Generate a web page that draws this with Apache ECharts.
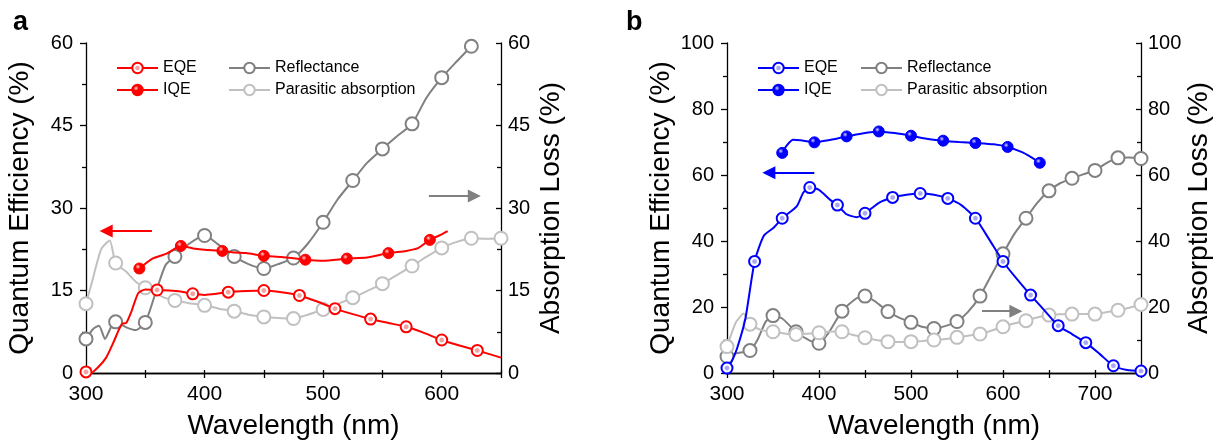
<!DOCTYPE html>
<html><head><meta charset="utf-8">
<script src="https://cdn.jsdelivr.net/npm/echarts@6/dist/echarts.min.js"></script>
<style>html,body{margin:0;padding:0;background:#fff}#c{width:1231px;height:445px}</style>
</head><body><div id="c"></div><script>
// ---------- Panel a data ----------
const EQE_A_WL = [300,304,310,317,323,328,331,334,338,344,350,360,370,380,390,400,410,420,435,450,465,480,495,510,525,540,555,570,585,600,615,630,650];
const EQE_A    = [0.2,0,1,2.8,5.5,8,9,9.1,11,14.5,15.2,15.1,15.0,14.8,14.4,14.2,14.4,14.7,14.9,15.0,14.7,14.1,13.0,11.7,10.7,9.8,9.1,8.4,7.3,6.0,5.0,4.1,2.8];
const EQE_A_MK = [300,360,390,420,450,480,510,540,570,600,630];

const IQE_A_WL = [345,356,368,380,392,400,415,425,435,450,465,485,500,520,537,555,570,580,590,598,605];
const IQE_A    = [19.0,20.8,21.7,23.1,22.6,22.4,22.2,21.9,21.8,21.3,21.1,20.6,20.4,20.8,21.0,21.8,22.2,22.7,24.2,25.0,25.8];
const IQE_A_MK = [345,380,415,450,485,520,555,590];

const REF_A_WL = [300,306,311,316,321,325,334,342,350,358,367,375,387,400,412,425,437,450,462,475,487,500,512,525,537,550,562,575,587,600,612,625,637,650];
const REF_A    = [6.2,8.0,8.6,6.2,8.3,9.3,8.3,7.8,9.2,14.1,19.6,21.2,23.5,25.0,23.3,21.2,19.8,19.0,19.8,20.9,23.5,27.4,31.5,35.0,38.2,40.75,43.0,45.3,50.0,53.7,56.5,59.4,62,65];
const REF_A_MK = [300,325,350,375,400,425,450,475,500,525,550,575,600,625];

const PAR_A_WL = [300,305,309,313,320,325,334,342,350,365,375,387,400,412,425,437,450,462,475,487,500,512,525,537,550,562,575,587,600,612,625,637,650];
const PAR_A    = [12.6,16.5,19.8,22.6,24.1,20.0,18.4,16.6,15.5,13.8,13.2,12.7,12.3,11.7,11.25,10.6,10.2,10.0,9.9,10.6,11.55,12.5,13.7,14.9,16.25,17.8,19.45,21.1,22.75,23.8,24.5,24.4,24.5];
const PAR_A_MK = [300,325,350,375,400,425,450,475,500,525,550,575,600,625,650];

// ---------- Panel b data ----------
const EQE_B_WL = [300,305,311,320,330,340,351,360,376,383,390,400,412,420,430,441,450,466,480,495,510,525,540,555,570,585,600,615,630,645,660,675,690,705,720,735,750];
const EQE_B    = [1.5,3.5,7.5,16.5,33.8,41.6,44.1,46.9,50.6,54.7,56.2,55.5,52.5,50.9,48.1,47.2,48.4,51.7,53.2,54.0,54.4,54.0,52.9,50.8,46.9,40.5,33.8,28.5,23.6,19.0,14.35,11.8,9.2,5.8,2.2,0.9,0.6];
const EQE_B_MK = [300,330,360,390,420,450,480,510,540,570,600,630,660,690,720,750];

const IQE_B_WL = [360,365,372,380,395,410,430,447,465,482,500,517,535,552,570,590,605,620,630,640];
const IQE_B    = [66.7,69.0,70.7,70.5,69.9,70.5,71.7,72.6,73.2,72.7,71.9,71.0,70.4,70.0,69.7,69.3,68.5,67.0,65.5,63.7];
const IQE_B_MK = [360,395,430,465,500,535,570,605,640];

const REF_B_WL = [300,310,325,333,342,350,360,375,390,400,410,425,440,450,462,475,487,500,512,525,537,550,562,575,587,600,612,625,637,650,662,675,687,700,712,725,737,750];
const REF_B    = [5.0,6.0,6.8,10,15.5,17.4,16.5,12.5,9.8,9.0,12,18.75,22.5,23.3,21.5,18.6,16.8,15.35,14,13.5,14.2,15.6,18.5,23.3,29.5,36.1,42,46.9,51.5,55.2,57.5,59.0,60.2,61.4,63.5,65.2,65.3,65.0];
const REF_B_MK = [300,325,350,375,400,425,450,475,500,525,550,575,600,625,650,675,700,725,750];

const PAR_B_WL = [300,305,310,318,325,337,350,362,375,387,400,412,425,437,450,462,475,487,500,512,525,537,550,562,575,587,600,612,625,637,650,675,700,712,725,737,750];
const PAR_B    = [8.0,12,15.5,18.0,14.8,13.0,12.5,12.0,11.7,11.9,12.2,12.6,12.5,11.5,10.7,10.0,9.5,9.4,9.5,9.7,10.0,10.3,10.8,11.3,11.8,12.8,14.0,15.0,15.85,16.8,17.55,17.85,17.85,18.4,19.0,19.8,20.75];
const PAR_B_MK = [300,325,350,375,400,425,450,475,500,525,550,575,600,625,650,675,700,725,750];

// legend / axis text
const LEGEND_NAMES = {EQE:'EQE', IQE:'IQE', REF:'Reflectance', PAR:'Parasitic absorption'};
const X_TITLE = 'Wavelength (nm)';
const YL_TITLE = 'Quantum Efficiency (%)';
const YR_TITLE = 'Absorption Loss (%)';

// arrows (data coordinates): [x0, x1, y]  (arrow head at x1)
const ARROW_A_RED  = [355.6, 317, 25.8];
const ARROW_A_GRAY = [589.2, 627.5, 32.2];
const ARROW_B_BLUE = [394.9, 345.5, 60.7];
const ARROW_B_GRAY = [577.2, 614, 18.75];

const FONT = '"Liberation Sans", Arial, Helvetica, sans-serif';
const RED = '#ff0000', BLUE = '#0000ff', DGRAY = '#808080', LGRAY = '#c0c0c0';

function build(wl, vals, mk){
  return wl.map((w,i)=> mk.indexOf(w) >= 0 ? {value:[w, vals[i]]} : {value:[w, vals[i]], symbol:'none'});
}
function openFill(dot){
  return {type:'radial', x:0.5, y:0.5, r:0.5, colorStops:[
    {offset:0, color:dot},{offset:0.28, color:dot},{offset:0.45, color:'#ffffff'},{offset:1, color:'#ffffff'}]};
}
function solidFill(c, hi){
  return {type:'radial', x:0.38, y:0.35, r:0.6, colorStops:[
    {offset:0, color:hi},{offset:0.35, color:c},{offset:1, color:c}]};
}
function series(id, name, xi, yi, wl, vals, mk, color, fill, size, bw, z, arrow){
  const s = {
    type:'line', id, name, xAxisIndex:xi, yAxisIndex:yi,
    data: build(wl, vals, mk), symbol:'circle', symbolSize:size, showAllSymbol:true,
    smooth:0.2, clip:true, z,
    lineStyle:{color, width:2},
    itemStyle:{color:fill, borderColor:color, borderWidth:bw},
    emphasis:{disabled:true}, animation:false
  };
  if (arrow){
    s.markLine = {
      silent:true, animation:false, symbol:['none','triangle'], symbolSize:13,
      label:{show:false}, emphasis:{disabled:true},
      itemStyle:{color},
      lineStyle:{color, width:2.2, type:'solid'},
      data:[[{coord:[arrow[0], arrow[2]]},{coord:[arrow[1], arrow[2]]}]]
    };
  }
  return s;
}

const grids = [
  {left:86, top:43, width:415, height:332},
  {left:727, top:43, width:414, height:332}
];
function xBottom(gi, min, max){
  return {type:'value', gridIndex:gi, position:'bottom', min, max, interval:50,
    name:X_TITLE, nameLocation:'middle', nameGap:39,
    nameTextStyle:{fontFamily:FONT, fontSize:28, color:'#000'},
    axisLine:{show:true, lineStyle:{color:'#000', width:1.3}},
    axisTick:{show:true, length:5, inside:false, lineStyle:{color:'#000', width:1.3}},
    axisLabel:{show:true, margin:11, fontFamily:FONT, fontSize:21, color:'#000',
      formatter:(v)=> (v % 100 === 0 ? String(v) : '')},
    splitLine:{show:false}};
}
function xTop(gi, min, max){
  return {type:'value', gridIndex:gi, position:'top', min, max, interval:50,
    axisLine:{show:true, lineStyle:{color:'#000', width:1.3}},
    axisTick:{show:true, length:3, inside:false, lineStyle:{color:'#000', width:1.3}},
    axisLabel:{show:false}, splitLine:{show:false}};
}
function yLeft(gi, max, interval){
  return {type:'value', gridIndex:gi, position:'left', min:0, max, interval,
    name:YL_TITLE, nameLocation:'middle', nameGap:52, nameRotate:90,
    nameTextStyle:{fontFamily:FONT, fontSize:28, color:'#000'},
    axisLine:{show:true, lineStyle:{color:'#000', width:1.3}},
    axisTick:{show:true, length:6, inside:false, lineStyle:{color:'#000', width:1.3}},
    minorTick:{show:true, splitNumber:2, length:4, lineStyle:{color:'#000', width:1.3}},
    axisLabel:{show:true, margin:13, fontFamily:FONT, fontSize:20, color:'#000'},
    splitLine:{show:false}, minorSplitLine:{show:false}};
}
function yRight(gi, max, interval){
  return {type:'value', gridIndex:gi, position:'right', min:0, max, interval,
    name:YR_TITLE, nameLocation:'middle', nameGap:36, nameRotate:90,
    nameTextStyle:{fontFamily:FONT, fontSize:28, color:'#000'},
    axisLine:{show:true, lineStyle:{color:'#000', width:1.3}},
    axisTick:{show:true, length:5, inside:true, lineStyle:{color:'#000', width:1.3}},
    minorTick:{show:true, splitNumber:2, length:4, lineStyle:{color:'#000', width:1.3}},
    axisLabel:{show:true, margin:7, fontFamily:FONT, fontSize:20, color:'#000'},
    splitLine:{show:false}, minorSplitLine:{show:false}};
}

const seriesList = [
  series('refA','REF_a',0,1,REF_A_WL,REF_A,REF_A_MK,DGRAY,'#ffffff',13,2,2,ARROW_A_GRAY),
  series('parA','PAR_a',0,1,PAR_A_WL,PAR_A,PAR_A_MK,LGRAY,'#ffffff',13,2,2,null),
  series('eqeA','EQE_a',0,0,EQE_A_WL,EQE_A,EQE_A_MK,RED,openFill('#f5a0a0'),11,2,3,ARROW_A_RED),
  series('iqeA','IQE_a',0,0,IQE_A_WL,IQE_A,IQE_A_MK,RED,solidFill(RED,'#ffd6d6'),11,1,3,null),
  series('refB','REF_b',2,3,REF_B_WL,REF_B,REF_B_MK,DGRAY,'#ffffff',13,2,2,ARROW_B_GRAY),
  series('parB','PAR_b',2,3,PAR_B_WL,PAR_B,PAR_B_MK,LGRAY,'#ffffff',13,2,2,null),
  series('eqeB','EQE_b',2,2,EQE_B_WL,EQE_B,EQE_B_MK,BLUE,openFill('#a8a8f5'),11,2,3,ARROW_B_BLUE),
  series('iqeB','IQE_b',2,2,IQE_B_WL,IQE_B,IQE_B_MK,BLUE,solidFill(BLUE,'#d6d6ff'),11,1,3,null)
];

function legend(names, left, top){
  return {data:names, left, top, orient:'vertical', itemWidth:41, itemHeight:13, itemGap:6,
    selectedMode:false, padding:0,
    textStyle:{fontFamily:FONT, fontSize:16, color:'#000', lineHeight:16},
    formatter:(n)=> LEGEND_NAMES[n.split('_')[0]]};
}

const option = {
  backgroundColor:'#ffffff',
  animation:false,
  grid: grids,
  xAxis: [xBottom(0,300,650), xTop(0,300,650), xBottom(1,300,750), xTop(1,300,750)],
  yAxis: [yLeft(0,60,15), yRight(0,60,15), yLeft(1,100,20), yRight(1,100,20)],
  legend: [
    legend(['EQE_a','IQE_a'], 116, 60),
    legend(['REF_a','PAR_a'], 228, 60),
    legend(['EQE_b','IQE_b'], 757, 60),
    legend(['REF_b','PAR_b'], 860, 60)
  ],
  graphic: [
    {type:'text', left:13, top:9, style:{text:'a', fontFamily:FONT, fontWeight:'bold', fontSize:27, fill:'#000'}},
    {type:'text', left:626, top:9, style:{text:'b', fontFamily:FONT, fontWeight:'bold', fontSize:27, fill:'#000'}}
  ],
  series: seriesList
};
const chart = echarts.init(document.getElementById('c'), null, {renderer:'canvas'});
chart.setOption(option);
</script></body></html>
